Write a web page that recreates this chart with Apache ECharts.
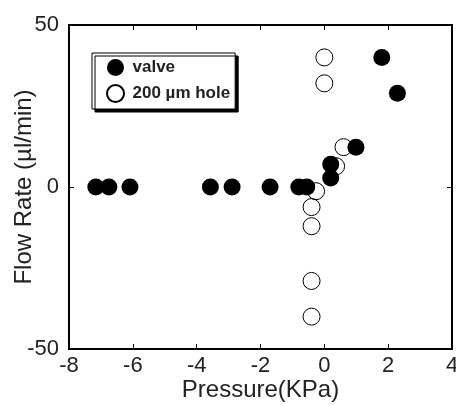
<!DOCTYPE html>
<html>
<head>
<meta charset="utf-8">
<script src="https://cdn.jsdelivr.net/npm/echarts@6/dist/echarts.min.js"></script>
<style>
  html, body { margin: 0; padding: 0; background: #fff; }
  #chart { width: 456px; height: 405px; }
</style>
</head>
<body>
<div id="chart"></div>
<script>
// Pressure (KPa) and flow rate (µl/min) measurements
const valvePressure = [-7.16, -6.75, -6.09, -3.57, -2.89, -1.70, -0.80, -0.55, 0.20, 0.20, 0.99, 1.80, 2.29];
const valveFlow     = [0, 0, 0, 0, 0, 0, 0, 0, 2.8, 7.0, 12.3, 40, 28.9];
const holePressure  = [0, 0, 0.60, 0.37, -0.26, -0.40, -0.40, -0.40, -0.40];
const holeFlow      = [40, 32, 12.3, 6.4, -1.3, -6.2, -12.1, -29, -40];

const xTicks = { min: -8, max: 4, interval: 2 };
const yTicks = { min: -50, max: 50, interval: 50 };

const pairs = (xs, ys) => xs.map((x, i) => [x, ys[i]]);

const font = 'Liberation Sans, Arial, Helvetica, sans-serif';
const axisLine = { show: true, onZero: false, lineStyle: { color: '#000', width: 2 } };
const tickIn = { show: true, inside: true, length: 5, lineStyle: { color: '#000', width: 1 } };
const tickLabel = { color: '#222', fontSize: 22, fontFamily: font };
const titleStyle = { color: '#222', fontSize: 24, fontFamily: font };

const chart = echarts.init(document.getElementById('chart'), null, { renderer: 'canvas' });
chart.setOption({
  animation: false,
  backgroundColor: '#fff',
  grid: {
    left: 69, right: 4, top: 25, bottom: 56,
    containLabel: false, outerBoundsMode: 'none',
    show: true, borderColor: '#000', borderWidth: 2, backgroundColor: 'transparent'
  },
  legend: {
    orient: 'vertical',
    left: 92, top: 53,
    data: ['valve', '200 µm hole'],
    backgroundColor: '#fff',
    borderColor: '#000', borderWidth: 1,
    shadowColor: '#000', shadowBlur: 0, shadowOffsetX: 3, shadowOffsetY: 3,
    padding: [6, 5, 6, 14],
    itemWidth: 24, itemHeight: 17, itemGap: 8,
    icon: 'circle',
    textStyle: { color: '#222', fontSize: 17, fontWeight: 'bold', fontFamily: font }
  },
  xAxis: [{
    type: 'value', position: 'bottom',
    min: xTicks.min, max: xTicks.max, interval: xTicks.interval,
    name: 'Pressure(KPa)', nameLocation: 'middle', nameGap: 29, nameMoveOverlap: false,
    nameTextStyle: titleStyle,
    axisLine: axisLine, axisTick: tickIn,
    axisLabel: Object.assign({ margin: 6 }, tickLabel),
    splitLine: { show: false }
  }, {
    type: 'value', position: 'top',
    min: xTicks.min, max: xTicks.max, interval: xTicks.interval,
    axisLine: axisLine, axisTick: tickIn,
    axisLabel: { show: false }, splitLine: { show: false }
  }],
  yAxis: [{
    type: 'value', position: 'left',
    min: yTicks.min, max: yTicks.max, interval: yTicks.interval,
    name: 'Flow Rate (µl/min)', nameLocation: 'middle', nameGap: 33, nameMoveOverlap: false,
    nameTextStyle: titleStyle,
    axisLine: axisLine, axisTick: tickIn,
    axisLabel: Object.assign({ margin: 10 }, tickLabel),
    splitLine: { show: false }
  }, {
    type: 'value', position: 'right',
    min: yTicks.min, max: yTicks.max, interval: yTicks.interval,
    axisLine: axisLine, axisTick: tickIn,
    axisLabel: { show: false }, splitLine: { show: false }
  }],
  series: [{
    name: 'valve',
    type: 'scatter',
    symbol: 'circle', symbolSize: 17,
    itemStyle: { color: '#000', opacity: 1 },
    data: pairs(valvePressure, valveFlow),
    z: 2
  }, {
    name: '200 µm hole',
    type: 'scatter',
    symbol: 'circle', symbolSize: 17,
    itemStyle: { color: 'rgba(255,255,255,0)', borderColor: '#000', borderWidth: 1, opacity: 1 },
    data: pairs(holePressure, holeFlow),
    z: 3
  }]
});
</script>
</body>
</html>
